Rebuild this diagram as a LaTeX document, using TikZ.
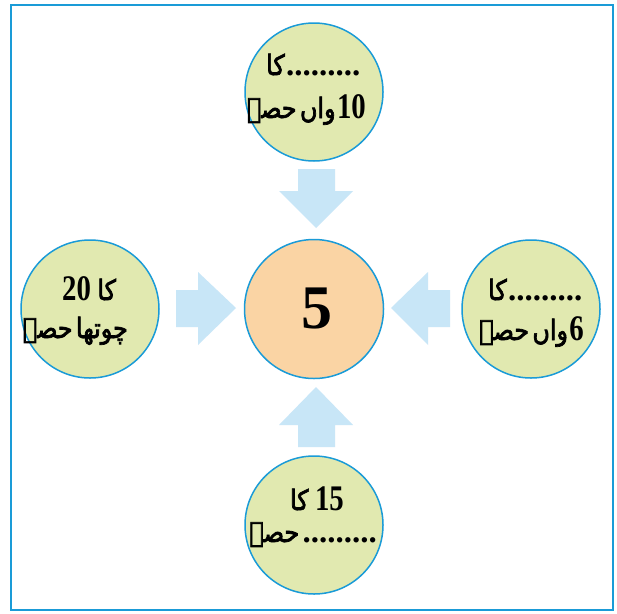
\documentclass[tikz,border=0pt]{standalone}
\usepackage{fontspec}
\TeXXeTstate=1
\newfontfamily\urdu[Script=Arabic, FakeBold=2.5, FakeStretch=0.85]{DejaVu Sans}
\newfontfamily\numf[FakeStretch=0.8]{Liberation Serif}
\newfontfamily\bigf{Liberation Serif}
\definecolor{frameblue}{HTML}{1A9BD7}
\definecolor{circblue}{HTML}{1A9BD7}
\definecolor{leaf}{HTML}{E1E9B0}
\definecolor{peach}{HTML}{FAD4A4}
\definecolor{arrowblue}{HTML}{C8E6F7}
\tikzset{
  bubble/.style={circle, draw=circblue, line width=1.5pt, fill=leaf, minimum size=138pt, inner sep=0pt},
  centerbubble/.style={bubble, fill=peach, minimum size=139pt},
  urd/.style={inner sep=0pt, font=\urdu\fontsize{28}{28}\selectfont},
  num/.style={inner sep=0pt, font=\numf\bfseries\fontsize{36}{36}\selectfont},
  dotrow/.style={inner sep=0pt, font=\bigf\bfseries\fontsize{33}{33}\selectfont},
  blockarrow/.style={fill=arrowblue, draw=none},
  frameline/.style={draw=frameblue, line width=2.5pt}
}
\begin{document}
\begin{tikzpicture}[x=1pt, y={(0pt,-1pt)}]
\useasboundingbox[fill=white] (0,0) rectangle (617,613);
\draw[frameline] (11,5) rectangle (613,610);
% circles
\node[bubble] (top) at (314,92) {};
\node[bubble] (left) at (90,309) {};
\node[bubble] (right) at (531,309) {};
\node[bubble] (bottom) at (314,525) {};
\node[centerbubble] (mid) at (314,309) {};
% block arrows
\fill[blockarrow] (298,169) -- (335,169) -- (335,191) -- (353,191) -- (316,228) -- (279,191) -- (298,191) -- cycle;
\fill[blockarrow] (176,290) -- (198,290) -- (198,272) -- (236,308) -- (198,345) -- (198,327) -- (176,327) -- cycle;
\fill[blockarrow] (450,290) -- (428,290) -- (428,272) -- (391,308) -- (428,345) -- (428,327) -- (450,327) -- cycle;
\fill[blockarrow] (298,447) -- (298,425) -- (279,425) -- (316,387) -- (353,425) -- (335,425) -- (335,447) -- cycle;
% centre
\node[anchor=base, inner sep=0pt] (five) at (317,328) {\bigf\bfseries\fontsize{62}{62}\selectfont 5};
% top circle
\node[urd, anchor=base east] (topKa) at (285,75) {\beginR کا\endR};
\node[dotrow, anchor=base west] (topDots) at ([xshift=1pt]topKa.base east) {.........};
\node[num, anchor=base east] (top10) at (366,118) {10};
\node[urd, anchor=base east] (topVan) at ([xshift=-1pt]top10.base west) {\beginR واں\endR};
\node[urd, anchor=base east] (topHissa) at ([xshift=-3pt]topVan.base west) {\beginR حصہ\endR};
% left circle
\node[num, anchor=base west] (left20) at (62,300) {20};
\node[urd, anchor=base west] (leftKa) at ([xshift=6pt]left20.base east) {\beginR کا\endR};
\node[urd, anchor=base east] (leftChotha) at (128,338) {\beginR چوتھا\endR};
\node[urd, anchor=base east] (leftHissa) at ([xshift=-3pt]leftChotha.base west) {\beginR حصہ\endR};
% right circle
\node[urd, anchor=base east] (rightKa) at (507,300) {\beginR کا\endR};
\node[dotrow, anchor=base west] (rightDots) at ([xshift=1pt]rightKa.base east) {.........};
\node[num, anchor=base east] (right6) at (584,340) {6};
\node[urd, anchor=base east] (rightVan) at ([xshift=-1pt]right6.base west) {\beginR واں\endR};
\node[urd, anchor=base east] (rightHissa) at ([xshift=-3pt]rightVan.base west) {\beginR حصہ\endR};
% bottom circle
\node[num, anchor=base east] (bottom15) at (344,510) {15};
\node[urd, anchor=base east] (bottomKa) at ([xshift=-6pt]bottom15.base west) {\beginR کا\endR};
\node[dotrow, anchor=base east] (bottomDots) at (377,542) {.........};
\node[urd, anchor=base east] (bottomHissa) at ([xshift=-3pt]bottomDots.base west) {\beginR حصہ\endR};
\end{tikzpicture}
\end{document}
